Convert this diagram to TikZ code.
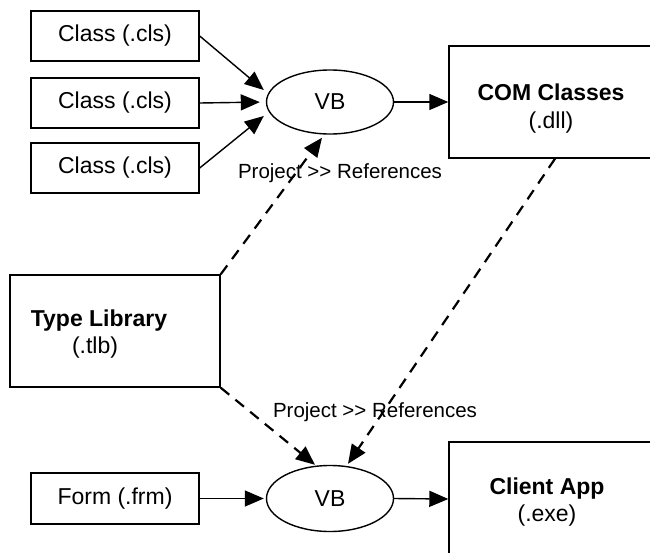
\documentclass[tikz,border=0pt]{standalone}
\usepackage{fontspec}
\setmainfont{Liberation Sans}
\usetikzlibrary{arrows.meta,shapes.geometric}
\begin{document}
\begin{tikzpicture}[x=1pt,y=-1pt,
  box/.style={draw,line width=1.4pt,inner sep=0pt,font=\fontsize{23}{27}\selectfont},
  oval/.style={draw,ellipse,line width=1.4pt,inner sep=0pt,minimum width=127pt,font=\fontsize{23}{27}\selectfont},
  txt/.style={anchor=base,inner sep=0pt,font=\fontsize{23}{27}\selectfont},
  lbl/.style={anchor=base,inner sep=0pt,font=\fontsize{20.5}{24}\selectfont},
  arr/.style={line width=1.4pt,-{Triangle[length=19pt,width=16pt]}},
  darr/.style={line width=2.2pt,dash pattern=on 11pt off 8pt,-{Triangle[length=19pt,width=16pt]}}]
\useasboundingbox (0,0) rectangle (650,552);
\clip (0,0) rectangle (650,552);
% boxes
\node[box,minimum width=168pt,minimum height=50pt] (c1) at (115,36) {Class (.cls)};
\node[box,minimum width=168pt,minimum height=50pt] (c2) at (115,103) {Class (.cls)};
\node[box,minimum width=168pt,minimum height=50pt] (c3) at (115,168) {Class (.cls)};
\node[box,minimum width=168pt,minimum height=51pt] (form) at (115,498.5) {Form (.frm)};
\node[box,minimum width=210pt,minimum height=112pt] (tlb) at (115,331) {};
\node[box,minimum width=204pt,minimum height=112pt] (com) at (551,102) {};
\node[box,minimum width=204pt,minimum height=114pt] (client) at (551,499) {};
% box texts
\node[txt] (tlbt1) at (99,326) {\bfseries Type Library};
\node[txt] (tlbt2) at (95,353) {(.tlb)};
\node[txt] (comt1) at (551,100) {\bfseries COM Classes};
\node[txt] (comt2) at (551,128) {(.dll)};
\node[txt] (clit1) at (547,494) {\bfseries Client App};
\node[txt] (clit2) at (547,521) {(.exe)};
% ellipses
\node[oval,minimum height=64pt] (vb1) at (330,102) {VB};
\node[oval,minimum height=66pt] (vb2) at (330,498.5) {VB};
% labels
\node[lbl] (l1) at (340,178) {Project >\kern0pt> References};
\node[lbl] (l2) at (375,417) {Project >\kern0pt> References};
% solid arrows
\draw[arr] (c1.east) -- ([xshift=-2pt,yshift=12pt]vb1.west);
\draw[arr,shorten >=6pt] (c2.east) -- (vb1.west);
\draw[arr] (c3.east) -- ([xshift=-2pt,yshift=-14pt]vb1.west);
\draw[arr] (vb1.east) -- (com.west);
\draw[arr,shorten >=2pt] (form.east) -- (vb2.west);
\draw[arr] (vb2.east) -- (client.west);
% dashed arrows
\draw[darr] (tlb.north east) -- ([xshift=-8pt,yshift=-3pt]vb1.south);
\draw[darr] (tlb.south east) -- ([xshift=-15pt]vb2.north);
\draw[darr] ([xshift=4pt]com.south) -- ([xshift=18pt,yshift=1pt]vb2.north);
\end{tikzpicture}
\end{document}
